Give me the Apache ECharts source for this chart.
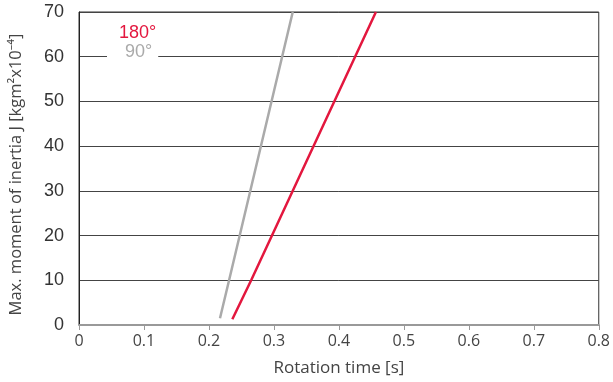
<!DOCTYPE html>
<html>
<head>
<meta charset="utf-8">
<script src="https://cdn.jsdelivr.net/npm/echarts@6/dist/echarts.min.js"></script>
<style>
  html, body { margin: 0; padding: 0; background: #fff; }
  #chart { width: 613px; height: 382px; }
</style>
</head>
<body>
<div id="chart"></div>
<script>
// values: rotation time [s] vs max. inertia
var grayName = '90°';
var grayTime = [0.217, 0.231, 0.329];
var grayInertia = [1.5, 10, 70];

var redName = '180°';
var redTime = [0.236, 0.265, 0.457];
var redInertia = [1.3, 10, 70];

var xTicks = [0, 0.1, 0.2, 0.3, 0.4, 0.5, 0.6, 0.7, 0.8];

function pairs(xs, ys) {
	var out = [];
	for (var i = 0; i < xs.length; i++) {
		out.push([xs[i], ys[i]]);
	}
	return out;
}

var font = 'Open Sans, Noto Sans, DejaVu Sans, sans-serif';
var arial = 'Liberation Sans, Arial, sans-serif';
var myChart = echarts.init(document.getElementById('chart'));
var option = {
	animation: false,
	backgroundColor: '#fff',
	grid: {
		left: 77, right: 10, top: 12, bottom: 57,
		show: true, borderColor: '#333', borderWidth: 1
	},
	legend: [{
		data: [{ name: redName, textStyle: { color: '#e3173e' } }],
		icon: 'none', itemWidth: 0, itemGap: 0,
		left: 114, top: 24, padding: 0,
		textStyle: { fontSize: 18, fontFamily: arial }
	}, {
		data: [{ name: grayName, textStyle: { color: '#aaaaaa' } }],
		icon: 'none', itemWidth: 0, itemGap: 0,
		left: 107, top: 43, padding: [0, 6, 0, 13],
		backgroundColor: '#fff',
		textStyle: { fontSize: 18, fontFamily: arial }
	}],
	xAxis: {
		type: 'value', min: 0, max: 0.8, interval: 0.1,
		name: 'Rotation time [s]', nameLocation: 'middle', nameGap: 35,
		nameTextStyle: { fontSize: 17, color: '#444', fontFamily: font },
		axisLine: { show: true, lineStyle: { color: '#999', width: 2 } },
		axisTick: { show: true, length: 5, lineStyle: { color: '#999' } },
		axisLabel: {
			fontSize: 16, color: '#444', fontFamily: font, margin: 8,
			formatter: function (v) { return xTicks.indexOf(Math.round(v * 10) / 10) >= 0 ? String(Math.round(v * 10) / 10) : ''; }
		},
		splitLine: { show: false }
	},
	yAxis: {
		type: 'value', min: 0, max: 70, interval: 10,
		name: 'Max. moment of inertia J [kgm²x10⁻⁴]', nameLocation: 'middle', nameGap: 54,
		nameTextStyle: { fontSize: 16.5, color: '#444', fontFamily: font, padding: [0, 12, 0, 0] },
		axisLine: { show: true, lineStyle: { color: '#222', width: 1 } },
		axisTick: { show: false },
		axisLabel: { fontSize: 18, color: '#333', fontFamily: arial, margin: 15 },
		splitLine: { show: true, lineStyle: { color: '#444', width: 1 } }
	},
	series: [{
		name: grayName, type: 'line', showSymbol: false,
		data: pairs(grayTime, grayInertia),
		lineStyle: { color: '#aaaaaa', width: 2.5 },
		itemStyle: { color: '#aaaaaa' }
	}, {
		name: redName, type: 'line', showSymbol: false,
		data: pairs(redTime, redInertia),
		lineStyle: { color: '#e3173e', width: 2.5 },
		itemStyle: { color: '#e3173e' }
	}]
};
myChart.setOption(option);
</script>
</body>
</html>
